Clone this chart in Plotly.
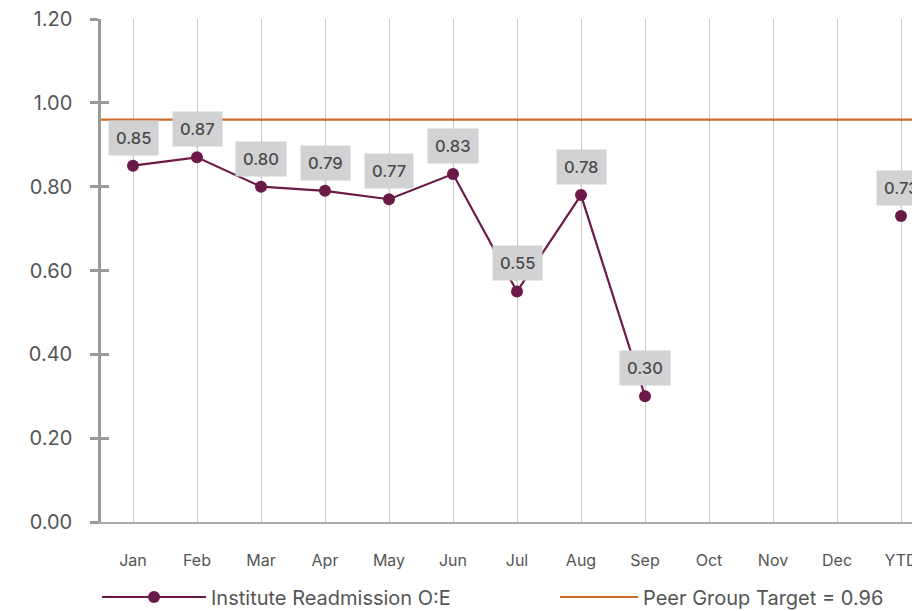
import plotly.graph_objects as go

months = ["Jan", "Feb", "Mar", "Apr", "May", "Jun", "Jul", "Aug", "Sep", "Oct", "Nov", "Dec", "YTD"]
oe_values = [0.85, 0.87, 0.80, 0.79, 0.77, 0.83, 0.55, 0.78, 0.30, None, None, None, 0.73]
target_value = 0.96
y_ticks = [0.0, 0.2, 0.4, 0.6, 0.8, 1.0, 1.2]

series_name = "Institute Readmission O:E"
target_name = "Peer Group Target = 0.96"

MAROON = "#6b1a48"
ORANGE = "#cc6a28"
FONT = "Inter, 'Noto Sans', sans-serif"

fig = go.Figure()

fig.add_trace(go.Scatter(
    x=months, y=oe_values, mode="lines+markers", name=series_name,
    line=dict(color=MAROON, width=2.2), marker=dict(color=MAROON, size=12),
    connectgaps=False, cliponaxis=False, legend="legend",
))

fig.add_trace(go.Scatter(
    x=[0, 1], y=[target_value, target_value], mode="lines", name=target_name,
    xaxis="x2", line=dict(color=ORANGE, width=2.2), legend="legend2",
))

# invisible trace to draw inner half of y ticks
fig.add_trace(go.Scatter(x=[None], y=[None], yaxis="y2", showlegend=False, hoverinfo="skip"))

for m, v in zip(months, oe_values):
    if v is None:
        continue
    fig.add_annotation(
        x=m, y=v, text=f"{v:.2f}", showarrow=True, ax=0, ay=-28,
        arrowhead=2, arrowsize=0.7, arrowwidth=2, arrowcolor="#d2d2d4", standoff=8,
        bgcolor="#d2d2d4", borderpad=7,
        font=dict(family=FONT, size=16.5, color="#4a4a4a", weight=500),
    )

W, H = 912, 603
L, T, B = 93, 11, 89
pw = W - L
ph = H - T - B
legend_y = (H - B - 589) / ph

fig.update_layout(
    width=W, height=H,
    margin=dict(l=L, r=0, t=T, b=B, autoexpand=False),
    paper_bgcolor="white", plot_bgcolor="white",
    font=dict(family=FONT, color="#555555"),
    showlegend=True,
    legend=dict(
        orientation="h", x=-4 / pw, xanchor="left", y=legend_y, yanchor="middle",
        font=dict(size=20, color="#555555", family=FONT), itemwidth=104,
        bgcolor="rgba(0,0,0,0)",
    ),
    legend2=dict(
        orientation="h", x=(555 - 101) / pw, xanchor="left", y=legend_y, yanchor="middle",
        font=dict(size=20, color="#555555", family=FONT), itemwidth=78,
        bgcolor="rgba(0,0,0,0)",
    ),
    xaxis=dict(
        type="category", range=[-0.5, -0.5 + pw / 64],
        showgrid=True, gridcolor="#c8c8c8", gridwidth=1,
        showline=True, linecolor="#aaaaaa", linewidth=2,
        ticks="", tickfont=dict(size=16, color="#555555"),
        ticklabelstandoff=23, zeroline=False,
    ),
    xaxis2=dict(overlaying="x", range=[0, 1], visible=False),
    yaxis=dict(
        range=[0, 1.2], tickvals=y_ticks, tickformat=".2f",
        showgrid=False, zeroline=False,
        showline=True, linecolor="#9a9a9a", linewidth=2.5,
        ticks="outside", ticklen=8, tickwidth=2.5, tickcolor="#9a9a9a",
        tickfont=dict(size=20, color="#555555"), ticklabelstandoff=14,
        ticklabeloverflow="allow",
    ),
    yaxis2=dict(
        overlaying="y", range=[0, 1.2], tickvals=y_ticks, side="left",
        showgrid=False, zeroline=False, showticklabels=False,
        ticks="inside", ticklen=8, tickwidth=2.5, tickcolor="#9a9a9a",
    ),
)

fig.write_html("out.html")
